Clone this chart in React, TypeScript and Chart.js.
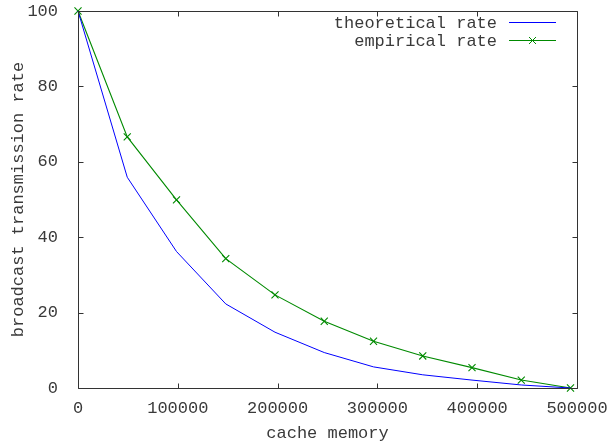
import React, { useEffect, useRef } from "react";
import { Chart, registerables } from "chart.js";

Chart.register(...registerables);

const cacheMemory = [0, 49350, 98700, 148050, 197400, 246750, 296100, 345450, 394800, 444150, 493500];
const theoreticalRate = [100, 55.9, 36.2, 22.3, 14.8, 9.4, 5.6, 3.5, 2.1, 0.8, 0];
const empiricalRate = [100, 66.6, 49.9, 34.3, 24.7, 17.7, 12.4, 8.5, 5.4, 2.1, 0];
const xTicks = [0, 100000, 200000, 300000, 400000, 500000];
const yTicks = [0, 20, 40, 60, 80, 100];

const FONT = "'Liberation Mono', 'DejaVu Sans Mono', monospace";
const FONT_SIZE = 17;
const TEXT_COLOR = "#3a3a3a";
const BORDER_COLOR = "#333";

const framePlugin = {
  id: "gnuplotFrame",
  afterDraw(chart: any) {
    const { ctx, chartArea } = chart;
    const { left, right, top, bottom } = chartArea;
    const xs = chart.scales.x;
    const ys = chart.scales.y;
    ctx.save();
    ctx.strokeStyle = BORDER_COLOR;
    ctx.lineWidth = 1;
    ctx.beginPath();
    const L = Math.round(left) + 0.5;
    const R = Math.round(right) + 0.5;
    const T = Math.round(top) + 0.5;
    const B = Math.round(bottom) + 0.5;
    ctx.rect(L, T, R - L, B - T);
    const tl = 5;
    xTicks.forEach((v) => {
      const px = Math.round(xs.getPixelForValue(v)) + 0.5;
      ctx.moveTo(px, B);
      ctx.lineTo(px, B - tl);
      ctx.moveTo(px, T);
      ctx.lineTo(px, T + tl);
    });
    yTicks.forEach((v) => {
      const py = Math.round(ys.getPixelForValue(v)) + 0.5;
      ctx.moveTo(L, py);
      ctx.lineTo(L + tl, py);
      ctx.moveTo(R, py);
      ctx.lineTo(R - tl, py);
    });
    ctx.stroke();

    // legend
    const textRight = 497;
    const x1 = 509;
    const x2 = 556;
    const rows = [22.5, 40.5];
    ctx.font = `${FONT_SIZE}px ${FONT}`;
    ctx.textAlign = "right";
    ctx.textBaseline = "middle";
    chart.data.datasets.forEach((ds: any, i: number) => {
      const y = rows[i];
      ctx.fillStyle = TEXT_COLOR;
      ctx.fillText(ds.label, textRight, y + 1);
      ctx.strokeStyle = ds.borderColor;
      ctx.lineWidth = 1;
      ctx.beginPath();
      ctx.moveTo(x1, y);
      ctx.lineTo(x2, y);
      ctx.stroke();
      if (ds.pointRadius > 0) {
        const cx = (x1 + x2) / 2;
        const r = 3.5;
        ctx.beginPath();
        ctx.moveTo(cx - r, y - r);
        ctx.lineTo(cx + r, y + r);
        ctx.moveTo(cx - r, y + r);
        ctx.lineTo(cx + r, y - r);
        ctx.stroke();
      }
    });
    ctx.restore();
  },
};

export default function App() {
  const ref = useRef<HTMLCanvasElement | null>(null);
  useEffect(() => {
    if (!ref.current) return;
    const font = { family: FONT, size: FONT_SIZE };
    const chart = new Chart(ref.current, {
      type: "line",
      data: {
        datasets: [
          {
            label: "theoretical rate",
            data: cacheMemory.map((x, i) => ({ x, y: theoreticalRate[i] })),
            borderColor: "#0000ff",
            borderWidth: 1,
            pointRadius: 0,
            tension: 0,
            clip: false as any,
          },
          {
            label: "empirical rate",
            data: cacheMemory.map((x, i) => ({ x, y: empiricalRate[i] })),
            borderColor: "#008a00",
            borderWidth: 1.1,
            pointStyle: "crossRot",
            pointRadius: 5,
            pointBorderWidth: 1.1,
            pointBorderColor: "#008a00",
            tension: 0,
            clip: false as any,
          },
        ],
      },
      options: {
        responsive: false,
        animation: false,
        layout: { padding: { left: 0, top: 11, right: 31, bottom: 0 } },
        plugins: {
          legend: { display: false },
          tooltip: { enabled: false },
        },
        scales: {
          x: {
            type: "linear",
            min: 0,
            max: 500000,
            afterFit: (s: any) => {
              s.height = 56;
              s.paddingLeft = 0;
              s.paddingRight = 0;
            },
            afterBuildTicks: (s: any) => {
              s.ticks = xTicks.map((v) => ({ value: v }));
            },
            grid: { display: false },
            border: { display: false },
            ticks: {
              font,
              color: TEXT_COLOR,
              padding: 2,
              maxRotation: 0,
              autoSkip: false,
              callback: (v: any) => String(v),
            },
            title: {
              display: true,
              text: "cache memory",
              font,
              color: TEXT_COLOR,
              padding: { top: 0, bottom: 0 },
            },
          },
          y: {
            type: "linear",
            min: 0,
            max: 100,
            afterFit: (s: any) => {
              s.width = 78;
              s.paddingTop = 0;
              s.paddingBottom = 0;
            },
            afterBuildTicks: (s: any) => {
              s.ticks = yTicks.map((v) => ({ value: v }));
            },
            grid: { display: false },
            border: { display: false },
            ticks: {
              font,
              color: TEXT_COLOR,
              padding: 12,
              autoSkip: false,
              callback: (v: any) => String(v),
            },
            title: {
              display: true,
              text: "broadcast transmission rate",
              font,
              color: TEXT_COLOR,
              padding: { top: 8, bottom: 0 },
            },
          },
        },
      },
      plugins: [framePlugin],
    });
    return () => chart.destroy();
  }, []);
  return (
    <div style={{ position: "absolute", left: 0, top: 0, width: 608, height: 444, background: "#fff" }}>
      <canvas ref={ref} width={608} height={444} style={{ display: "block" }} />
    </div>
  );
}
